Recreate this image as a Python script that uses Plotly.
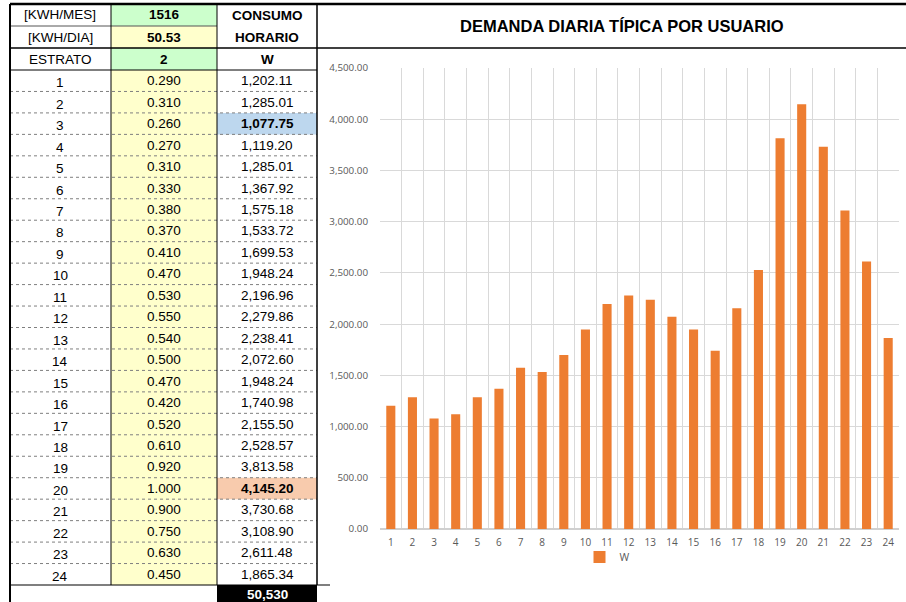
import plotly.graph_objects as go

# ---------------- data ----------------
horas = list(range(1, 25))
factores = [0.290, 0.310, 0.260, 0.270, 0.310, 0.330, 0.380, 0.370, 0.410, 0.470, 0.530, 0.550,
            0.540, 0.500, 0.470, 0.420, 0.520, 0.610, 0.920, 1.000, 0.900, 0.750, 0.630, 0.450]
consumo_w = [1202.11, 1285.01, 1077.75, 1119.20, 1285.01, 1367.92, 1575.18, 1533.72, 1699.53,
             1948.24, 2196.96, 2279.86, 2238.41, 2072.60, 1948.24, 1740.98, 2155.50, 2528.57,
             3813.58, 4145.20, 3730.68, 3108.90, 2611.48, 1865.34]
kwh_mes = "1516"
kwh_dia = "50.53"
estrato = "2"
total_w = "50,530"
fila_min = 3   # highlighted (min)
fila_max = 20  # highlighted (max)
titulo = "DEMANDA DIARIA TÍPICA POR USUARIO"
serie = "W"
ytick_vals = [0, 500, 1000, 1500, 2000, 2500, 3000, 3500, 4000, 4500]

W, H = 906, 602
ORANGE = "#ED7D31"
FONT = "Liberation Sans, Arial, sans-serif"


def px(x):
    return x / W


def py(y):
    return 1 - y / H


shapes = []
annots = []


def rect(x0, y0, x1, y1, fill):
    shapes.append(dict(type="rect", xref="paper", yref="paper", x0=px(x0), x1=px(x1),
                       y0=py(y1), y1=py(y0), fillcolor=fill, line=dict(width=0), layer="below"))


def line(x0, y0, x1, y1, color="#000000", width=1, dash="solid"):
    shapes.append(dict(type="line", xref="paper", yref="paper", x0=px(x0), x1=px(x1),
                       y0=py(y0), y1=py(y1), line=dict(color=color, width=width, dash=dash)))


def text(x, y, s, bold=False, color="#000000", size=13.5):
    if bold:
        s = "<b>" + s + "</b>"
    annots.append(dict(xref="paper", yref="paper", x=px(x), y=py(y), text=s, showarrow=False,
                       xanchor="center", yanchor="middle",
                       font=dict(family=FONT, size=size, color=color)))


# table geometry
XL, C1, C2, XR = 10, 111, 217, 317
Y0, YA, YB, YC = 4, 26, 48, 70
YE = 585
RH = (YE - YC) / len(horas)
mid1, mid2, mid3 = (XL + C1) / 2, (C1 + C2) / 2, (C2 + XR) / 2

# fills
GREEN, YELLOW = "#CCFFCC", "#FFFFCC"
rect(C1, Y0, C2, YA, GREEN)
rect(C1, YA, C2, YB, YELLOW)
rect(C1, YB, C2, YC, GREEN)
rect(C1, YC, C2, YE, YELLOW)
rect(C2, YC + (fila_min - 1) * RH, XR, YC + fila_min * RH, "#BDD7EE")
rect(C2, YC + (fila_max - 1) * RH, XR, YC + fila_max * RH, "#F8CBAD")
rect(C2, YE, XR, H, "#000000")

# header texts
text(mid1, (Y0 + YA) / 2, "[KWH/MES]")
text(mid1, (YA + YB) / 2 + 1, "[KWH/DIA]")
text(mid1, (YB + YC) / 2, "ESTRATO")
text(mid2, (Y0 + YA) / 2, kwh_mes, bold=True)
text(mid2, (YA + YB) / 2 + 1, kwh_dia, bold=True)
text(mid2, (YB + YC) / 2, estrato, bold=True)
text(mid3, (Y0 + YA) / 2 + 1, "CONSUMO", bold=True)
text(mid3, (YA + YB) / 2, "HORARIO", bold=True)
text(mid3, (YB + YC) / 2, serie, bold=True)

for i, (h, f, w) in enumerate(zip(horas, factores, consumo_w)):
    yc = YC + (i + 0.5) * RH
    text(mid1, yc + 2, str(h))
    text(mid2, yc, f"{f:.3f}")
    text(mid3, yc, f"{w:,.2f}", bold=(h in (fila_min, fila_max)))
    if i < len(horas) - 1:
        line(XL, YC + (i + 1) * RH, XR, YC + (i + 1) * RH, color="#7F7F7F", width=1, dash="dot")

text(mid3, (YE + H) / 2 + 1, total_w, bold=True, color="#FFFFFF")

# borders
line(XL, Y0, 906, Y0, width=2.5)
line(XL, YA, C2, YA, color="#555555", width=1)
line(XL, YB, 906, YB, width=1.5)
line(XL, YC, XR, YC, width=1)
line(XL, YE, 330, YE, width=1.2)
line(XL, Y0, XL, H, width=2)
line(C1, Y0, C1, YE, width=1)
line(C2, Y0, C2, YE, width=1)
line(XR, Y0, XR, YE, width=1.5)

# title
text(622, 26, titulo, bold=True, size=16.5)

fig = go.Figure()
fig.add_trace(go.Bar(x=horas, y=consumo_w, name=serie, marker=dict(color=ORANGE, line=dict(width=0)),
                     width=0.42))

fig.update_layout(
    width=W, height=H,
    margin=dict(l=0, r=0, t=0, b=0, autoexpand=False),
    paper_bgcolor="white", plot_bgcolor="white",
    shapes=shapes, annotations=annots,
    showlegend=True,
    legend=dict(orientation="h", x=px(607), xanchor="center", y=py(557), yanchor="middle",
                bgcolor="rgba(0,0,0,0)",
                font=dict(family="Open Sans, sans-serif", size=10.5, color="#595959"),
                itemwidth=30, itemsizing="constant"),
    xaxis=dict(domain=[px(380), px(899)], range=[0.5, 24.5], tickmode="array", tickvals=horas,
               ticktext=[str(h) for h in horas], showgrid=False, ticks="", zeroline=False,
               showline=False, automargin=False, ticklabelstandoff=6,
               tickfont=dict(family="Open Sans, sans-serif", size=10, color="#595959"),
               minor=dict(tick0=0.5, dtick=1, showgrid=True, gridcolor="#D9D9D9", gridwidth=1)),
    yaxis=dict(domain=[py(529), py(68)], range=[0, 4500], tickvals=ytick_vals,
               tickformat=",.2f", showgrid=True, gridcolor="#D9D9D9", gridwidth=1,
               zeroline=True, zerolinecolor="#D0D0D0", zerolinewidth=2, showline=False, ticks="",
               ticklabelstandoff=11, automargin=False,
               tickfont=dict(family="Open Sans, sans-serif", size=9.8, color="#595959")),
)

post = ("document.documentElement.style.margin='0';document.body.style.margin='0';"
        "document.body.style.overflow='hidden';"
        "var d=document.getElementById('{plot_id}');d.style.position='absolute';"
        "d.style.left='0px';d.style.top='0px';")
fig.write_html("out.html", post_script=post, config={"displayModeBar": False})
